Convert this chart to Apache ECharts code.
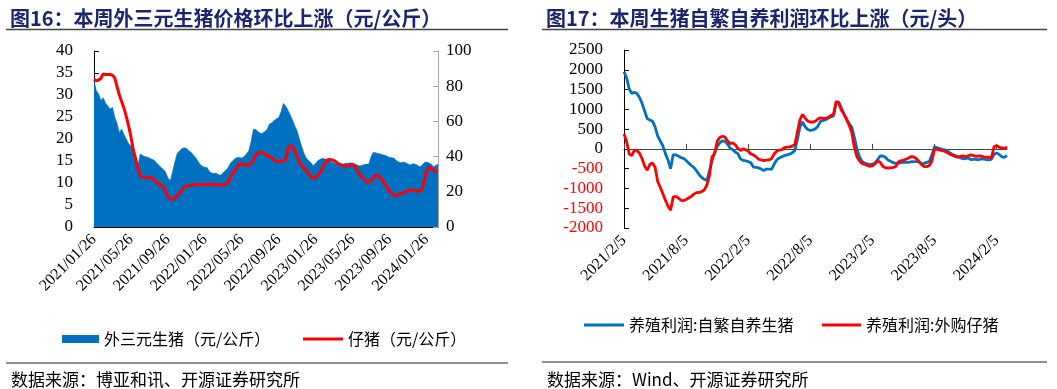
<!DOCTYPE html>
<html><head><meta charset="utf-8">
<script src="https://cdn.jsdelivr.net/npm/echarts@6/dist/echarts.min.js"></script>
<style>html,body{margin:0;padding:0;background:#fff}#c{width:1057px;height:389px}</style>
</head><body><div id="c"></div>
<script>
// ---------- Left chart: categories (approx. weekly, 4 per month starting 2021/01/26) ----------
const leftDays = [26, 3, 11, 18];
const leftDates = (function () {
  const out = [];
  let y = 2021, m = 1;
  while (out.length < 150) {
    for (let k = 0; k < 4 && out.length < 150; k++) {
      let yy = y, mm = m;
      if (k > 0) { mm = m + 1; if (mm > 12) { mm = 1; yy = y + 1; } }
      out.push(yy + '/' + String(mm).padStart(2, '0') + '/' + String(leftDays[k]).padStart(2, '0'));
    }
    m++; if (m > 12) { m = 1; y++; }
  }
  return out;
})();

// 外三元生猪（元/公斤） — left axis
const hogPrice = [
  33.4, 31.0, 30.2, 28.8, 29.4, 28.2, 27.5, 26.8, 27.2, 25.0,
  23.6, 21.5, 22.3, 21.0, 20.0, 19.0, 18.4, 17.8, 16.5, 14.0,
  16.6, 16.3, 16.0, 15.9, 15.7, 15.4, 15.2, 14.6, 14.1, 13.6,
  13.1, 12.5, 11.2, 10.5, 12.5, 14.8, 16.7, 17.3, 17.8, 18.0,
  17.9, 17.4, 17.0, 16.4, 15.8, 15.0, 14.2, 13.8, 13.6, 13.5,
  12.6, 12.3, 12.2, 12.2, 11.9, 11.8, 12.4, 12.9, 13.4, 14.5,
  15.0, 15.5, 15.8, 15.8, 15.7, 16.0, 16.6, 17.3, 19.4, 22.2,
  22.2, 21.7, 21.3, 21.3, 21.7, 22.2, 23.4, 23.7, 24.2, 24.6,
  24.9, 26.2, 28.1, 27.5, 26.6, 25.5, 24.3, 23.0, 21.9, 20.0,
  18.3, 16.7, 15.6, 15.1, 14.6, 13.9, 14.5, 15.1, 15.4, 15.6,
  15.5, 15.2, 15.1, 14.8, 14.6, 14.3, 14.5, 14.5, 14.3, 14.5,
  14.5, 14.6, 14.5, 14.3, 14.1, 13.9, 14.0, 14.2, 14.3, 14.3,
  16.0, 17.0, 16.9, 16.7, 16.6, 16.4, 16.3, 16.1, 15.8, 15.8,
  15.6, 15.1, 14.8, 14.6, 14.8, 14.6, 14.3, 14.1, 14.4, 14.3,
  14.1, 13.7, 14.0, 14.6, 14.8, 14.6, 14.3, 13.7, 14.0, 14.3
];

// 仔猪（元/公斤） — right axis
const pigletPrice = [
  83.9, 83.1, 83.5, 84.5, 86.9, 86.6, 86.7, 86.7, 86.2, 84.8,
  79.7, 75.0, 71.2, 67.4, 62.7, 57.4, 51.3, 43.8, 39.0, 33.3,
  29.5, 28.2, 28.2, 28.0, 28.0, 28.0, 27.1, 25.2, 24.4, 24.0,
  22.9, 20.1, 17.2, 15.9, 15.7, 16.5, 17.6, 19.1, 21.0, 22.5,
  23.3, 23.5, 23.7, 23.9, 24.0, 24.2, 24.2, 24.2, 24.2, 24.2,
  24.2, 24.2, 24.2, 24.0, 24.0, 23.7, 23.9, 24.4, 25.2, 28.2,
  30.5, 32.4, 33.9, 35.8, 35.8, 35.4, 35.0, 35.0, 36.2, 38.1,
  40.9, 42.2, 42.4, 42.2, 41.5, 40.5, 40.0, 39.2, 38.1, 37.1,
  37.1, 37.5, 37.7, 38.1, 44.7, 46.0, 45.6, 43.2, 40.0, 36.6,
  34.7, 33.5, 32.0, 30.1, 28.6, 27.7, 28.2, 29.5, 30.9, 33.7,
  36.2, 38.1, 38.4, 38.1, 37.7, 36.9, 35.8, 35.0, 34.7, 34.7,
  34.8, 35.2, 35.6, 34.7, 32.0, 30.1, 28.6, 27.1, 25.8, 25.6,
  26.3, 27.7, 29.5, 29.4, 28.0, 26.3, 24.2, 22.3, 20.5, 19.1,
  18.0, 17.8, 18.4, 19.1, 19.5, 20.1, 20.6, 21.0, 21.2, 20.6,
  20.3, 20.5, 21.0, 26.7, 31.4, 33.9, 33.3, 32.4, 31.4, 31.4
];

// ---------- Right chart: categories (4 per month, day 5/12/19/26, from 2021/2/5) ----------
const rightDays = [5, 12, 19, 26];
const rightDates = (function () {
  const out = [];
  let y = 2021, m = 2;
  while (out.length < 149) {
    for (let k = 0; k < 4 && out.length < 149; k++) out.push(y + '/' + m + '/' + rightDays[k]);
    m++; if (m > 12) { m = 1; y++; }
  }
  return out;
})();

// 养殖利润:自繁自养生猪（元/头）
const selfBredProfit = [
  1950, 1800, 1520, 1400, 1430, 1400, 1300, 1150, 950, 760,
  730, 700, 560, 330, 200, 80, -120, -280, -500, -150,
  -150, -180, -220, -240, -290, -360, -420, -470, -550, -650,
  -720, -770, -800, -560, -300, -100, 60, 150, 200, 190,
  120, 20, -20, -80, -120, -250, -290, -300, -320, -350,
  -460, -470, -480, -510, -550, -510, -510, -520, -390, -280,
  -230, -200, -170, -150, -135, -100, -40, 230, 560, 680,
  560, 490, 470, 480, 510, 580, 700, 720, 740, 780,
  805, 840, 1190, 1180, 1040, 880, 760, 640, 551, 300,
  0, -200, -320, -360, -380, -395, -390, -360, -270, -180,
  -180, -210, -280, -310, -350, -364, -364, -345, -339, -339,
  -339, -325, -322, -322, -330, -380, -365, -340, -320, -150,
  55, 30, 10, -10, -25, -55, -100, -140, -170, -195,
  -225, -245, -250, -230, -270, -265, -265, -275, -255, -254,
  -270, -280, -258, -140, -100, -140, -200, -212, -170
];

// 养殖利润:外购仔猪（元/头）
const boughtPigletProfit = [
  380, 190, -130, -170, -40, -40, -110, -250, -440, -540,
  -390, -360, -460, -820, -970, -1130, -1300, -1450, -1550, -1220,
  -1200, -1240, -1300, -1310, -1280, -1240, -1200, -1144, -1105, -1102,
  -1080, -1040, -920, -680, -200, -130, 190, 290, 320, 300,
  200, 130, 150, 100, 10, -40, 0, -20, -60, -130,
  -150, -200, -260, -280, -297, -285, -280, -250, -130, -60,
  -30, -20, 30, 42, 50, 70, 110, 420, 740, 870,
  780, 700, 680, 678, 700, 760, 785, 770, 770, 800,
  847, 880, 1200, 1150, 980, 880, 740, 600, 420, 50,
  -200, -300, -370, -390, -420, -440, -430, -380, -300, -340,
  -440, -480, -483, -480, -466, -449, -330, -300, -283, -260,
  -230, -195, -205, -250, -320, -400, -449, -449, -420, -300,
  0, -15, -30, -42, -65, -100, -140, -160, -195, -210,
  -190, -175, -200, -175, -150, -170, -190, -175, -185, -200,
  -212, -212, -225, 60, 80, 40, 25, 5, 50
];

const leftTicks = [0, 40, 5];      // min, max, interval (left axis)
const rightTicks = [0, 100, 20];   // right axis
const profitTicks = [-2000, 2500, 500];

const serif = 'Liberation Serif';
const cjk = 'Noto Sans CJK SC';
const titleColor = '#1b2670';

const chart = echarts.init(document.getElementById('c'), null, { renderer: 'canvas' });

const legendText = { fontFamily: cjk, fontSize: 16, color: '#000' };

chart.setOption({
  animation: false,
  backgroundColor: '#fff',
  title: [
    { text: '图16：本周外三元生猪价格环比上涨（元/公斤）', left: 5, top: 3,
      textStyle: { fontFamily: cjk, fontWeight: 'bold', fontSize: 20, color: titleColor } },
    { text: '图17：本周生猪自繁自养利润环比上涨（元/头）', left: 541, top: 3,
      textStyle: { fontFamily: cjk, fontWeight: 'bold', fontSize: 20, color: titleColor } },
    { text: '数据来源：博亚和讯、开源证券研究所', left: 6, top: 366,
      textStyle: { fontFamily: cjk, fontWeight: 'normal', fontSize: 17, color: '#000' } },
    { text: '数据来源：Wind、开源证券研究所', left: 542, top: 366,
      textStyle: { fontFamily: cjk, fontWeight: 'normal', fontSize: 17, color: '#000' } }
  ],
  graphic: [
    { type: 'line', shape: { x1: 6, y1: 29.5, x2: 508, y2: 29.5 }, style: { stroke: '#444', lineWidth: 1.5 } },
    { type: 'line', shape: { x1: 542, y1: 29.5, x2: 1047, y2: 29.5 }, style: { stroke: '#444', lineWidth: 1.5 } },
    { type: 'line', shape: { x1: 6, y1: 363, x2: 508, y2: 363 }, style: { stroke: '#222', lineWidth: 1.2 } },
    { type: 'line', shape: { x1: 542, y1: 362, x2: 1047, y2: 362 }, style: { stroke: '#222', lineWidth: 1.2 } }
  ],
  legend: [
    { data: [{ name: '外三元生猪（元/公斤）', icon: 'rect' }], left: 57, top: 326, itemWidth: 37, itemHeight: 8,
      itemGap: 6, textStyle: legendText, selectedMode: false },
    { data: [{ name: '仔猪（元/公斤）', icon: 'rect' }], left: 298, top: 326, itemWidth: 40, itemHeight: 3,
      textStyle: legendText, selectedMode: false },
    { data: [{ name: '养殖利润:自繁自养生猪', icon: 'rect' }], left: 579, top: 312, itemWidth: 40, itemHeight: 3,
      textStyle: legendText, selectedMode: false },
    { data: [{ name: '养殖利润:外购仔猪', icon: 'rect' }], left: 817, top: 312, itemWidth: 39, itemHeight: 3,
      textStyle: legendText, selectedMode: false }
  ],
  grid: [
    { left: 94, top: 51, width: 344, height: 176, containLabel: false },
    { left: 624, top: 50, width: 383, height: 178, containLabel: false }
  ],
  xAxis: [
    { gridIndex: 0, type: 'category', data: leftDates, boundaryGap: false,
      axisLine: { lineStyle: { color: '#000', width: 1 } },
      axisTick: { inside: true, length: 5, interval: 15, lineStyle: { color: '#000' } },
      axisLabel: { interval: 15, rotate: 45, margin: 10, fontFamily: serif, fontSize: 16, color: '#000' },
      splitLine: { show: false } },
    { gridIndex: 1, type: 'category', data: rightDates, boundaryGap: false, position: 'bottom',
      axisLine: { onZero: true, lineStyle: { color: '#444', width: 1 } },
      axisTick: { inside: true, length: 5, interval: 23, lineStyle: { color: '#444' } },
      axisLabel: { show: false }, splitLine: { show: false } },
    { gridIndex: 1, type: 'category', data: rightDates, boundaryGap: false, position: 'bottom',
      axisLine: { show: false, onZero: false }, axisTick: { show: false },
      axisLabel: { interval: 23, rotate: 45, margin: 10, fontFamily: serif, fontSize: 16, color: '#000' },
      splitLine: { show: false } }
  ],
  yAxis: [
    { gridIndex: 0, type: 'value', min: leftTicks[0], max: leftTicks[1], interval: leftTicks[2],
      axisLine: { show: true, lineStyle: { color: '#000' } },
      axisTick: { show: true, inside: true, length: 5, lineStyle: { color: '#000' } },
      splitLine: { show: false },
      axisLabel: { margin: 21, fontFamily: serif, fontSize: 17, color: '#000' } },
    { gridIndex: 0, type: 'value', position: 'right', min: rightTicks[0], max: rightTicks[1], interval: rightTicks[2],
      axisLine: { show: true, lineStyle: { color: '#a6a6a6' } },
      axisTick: { show: true, inside: true, length: 5, lineStyle: { color: '#a6a6a6' } },
      splitLine: { show: false },
      axisLabel: { margin: 8, fontFamily: serif, fontSize: 17, color: '#000' } },
    { gridIndex: 1, type: 'value', min: profitTicks[0], max: profitTicks[1], interval: profitTicks[2],
      axisLine: { show: true, onZero: false, lineStyle: { color: '#000' } },
      axisTick: { show: true, inside: true, length: 5, lineStyle: { color: '#000' } },
      splitLine: { show: false },
      axisLabel: { margin: 21, fontFamily: serif, fontSize: 17,
        formatter: function (v) { return String(v); },
        color: function (v) { return Number(v) < 0 ? '#ff0000' : '#000'; } } }
  ],
  series: [
    { name: '外三元生猪（元/公斤）', type: 'line', xAxisIndex: 0, yAxisIndex: 0, data: hogPrice,
      symbol: 'none', color: '#0070c0', lineStyle: { width: 0.5, color: '#0070c0' },
      areaStyle: { color: '#0070c0', opacity: 1 } },
    { name: '仔猪（元/公斤）', type: 'line', xAxisIndex: 0, yAxisIndex: 1, data: pigletPrice,
      symbol: 'none', color: '#ff0000', lineStyle: { width: 3, color: '#ff0000' } },
    { name: '养殖利润:自繁自养生猪', type: 'line', xAxisIndex: 1, yAxisIndex: 2, data: selfBredProfit,
      symbol: 'none', color: '#0070c0', lineStyle: { width: 2.8, color: '#0070c0' } },
    { name: '养殖利润:外购仔猪', type: 'line', xAxisIndex: 1, yAxisIndex: 2, data: boughtPigletProfit,
      symbol: 'none', color: '#ff0000', lineStyle: { width: 2.8, color: '#ff0000' } }
  ]
});
</script>
</body></html>
